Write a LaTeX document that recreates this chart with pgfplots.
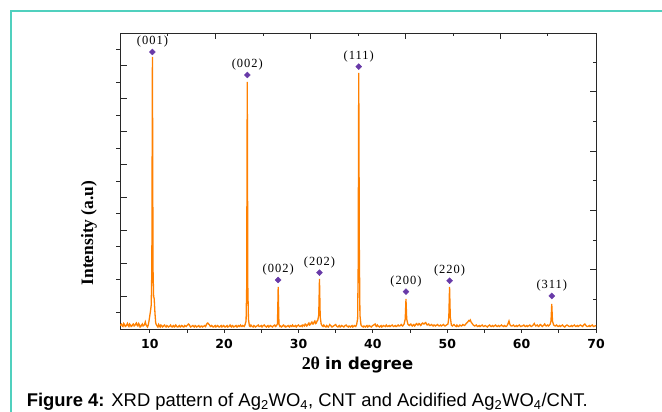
\documentclass[border=0pt]{standalone}
\usepackage{fontspec}
\usepackage{pgfplots}
\pgfplotsset{compat=1.18}
\setmainfont{Liberation Serif}
\newfontfamily\capfont{Liberation Sans}
\newfontfamily\tickfont{DejaVu Sans}
\newfontfamily\lblfont[LetterSpace=8]{Liberation Serif}

\definecolor{xrdorange}{RGB}{255,128,0}
\definecolor{peakviolet}{RGB}{104,58,168}
\definecolor{frameteal}{RGB}{80,208,190}
\definecolor{axisgray}{RGB}{40,40,40}

% heights are in pixels above the baseline of the frame
\pgfplotstableread{
x y
6.0 3
6.1 4.5
6.2 5
6.3 3
6.4 2.5
6.5 5.5
6.6 4.5
6.7 2.5
6.8 3
6.9 4
7.0 5.5
7.1 3.5
7.2 2.5
7.3 5
7.4 4
7.5 2.5
7.6 3
7.7 4.5
7.8 5
7.9 3
8.0 3.5
8.1 5
8.2 6
8.3 3.5
8.4 3
8.5 5.5
8.6 4.5
8.7 2
8.8 2.5
8.9 4
9.0 5
9.1 3
9.2 3.5
9.3 4.5
9.4 7
9.5 4
9.6 3
9.7 2
9.8 4
9.9 8
10.0 13
10.1 18
10.2 24
10.28 60
10.36 272
10.44 60
10.52 33
10.6 30
10.7 16
10.8 6
10.9 4
11.0 3
11.1 2
11.2 4.5
11.3 3
11.4 2
11.5 4
11.6 3.5
11.7 2
11.8 2.5
11.9 3.5
12.0 4
12.1 2.5
12.2 2
12.3 3.5
12.4 3
12.5 2
12.6 2.5
12.7 3
12.8 4
12.9 2.5
13.0 2
13.1 3
13.2 3.5
13.3 2
13.4 2.5
13.5 4
13.6 3
13.7 2
13.8 2
13.9 3
14.0 3.5
14.1 2
14.2 2.5
14.3 3.5
14.4 3
14.5 2
14.6 2
14.7 3.5
14.8 3
14.9 2.5
15.0 3.5
15.1 4
15.2 5
15.3 4.5
15.4 3
15.5 2
15.6 2.5
15.7 3
15.8 3.5
15.9 2.5
16.0 2
16.1 3.5
16.2 3
16.3 2
16.4 2.5
16.5 3
16.6 3.5
16.7 2
16.8 2
16.9 3
17.0 3
17.1 2
17.2 2.5
17.3 3
17.4 3.5
17.5 2.5
17.6 4
17.7 5.5
17.8 6
17.9 5
18.0 4.5
18.1 3
18.2 2.5
18.3 3.5
18.4 3
18.5 2
18.6 2
18.7 3
18.8 3.5
18.9 2
19.0 2.5
19.1 3.5
19.2 3
19.3 2
19.4 2
19.5 3
19.6 3.5
19.7 2
19.8 2.5
19.9 3.5
20.0 3
20.1 2
20.2 2
20.3 3
20.4 3.5
20.5 2
20.6 2.5
20.7 3
20.8 4
20.9 2.5
21.0 2
21.1 3.5
21.2 3
21.3 2
21.4 2.5
21.5 3
21.6 3.5
21.7 2
21.8 2
21.9 3.5
22.0 3
22.1 2.5
22.2 4
22.3 3
22.4 2.5
22.5 3.5
22.6 3
22.7 2.5
22.8 4
22.95 8
23.03 40
23.11 247
23.19 40
23.27 10
23.4 3
23.5 2.5
23.6 4
23.7 3
23.8 2.5
23.9 2
24.0 3.5
24.1 3
24.2 2
24.3 2.5
24.4 3
24.5 3.5
24.6 4
24.7 2.5
24.8 2.5
24.9 3
25.0 3.5
25.1 2
25.2 3
25.3 3.5
25.4 4
25.5 3
25.6 2.5
25.7 2
25.8 3
25.9 3.5
26.0 2
26.1 2.5
26.2 3.5
26.3 3
26.4 2.5
26.5 2
26.6 3
26.7 3.5
26.8 4
26.9 2.5
27.0 3
27.17 5
27.27 42
27.37 5
27.5 2.5
27.6 3
27.7 2
27.8 2.5
27.9 3.5
28.0 4
28.1 2.5
28.2 3
28.3 2
28.4 2.5
28.5 3
28.6 3.5
28.7 2.5
28.8 2
28.9 3.5
29.0 3
29.1 2.5
29.2 4
29.3 3
29.4 2.5
29.5 3
29.6 3.5
29.7 2
29.8 3
29.9 3.5
30.0 4
30.1 3
30.2 2.5
30.3 3
30.4 3.5
30.5 2.5
30.6 4
30.7 3.5
30.8 3
30.9 5
31.0 4.5
31.1 3
31.2 3.5
31.3 5
31.4 6
31.5 4
31.6 4.5
31.7 6
31.8 7
31.9 5
32.0 5
32.1 7
32.2 8
32.3 5.5
32.4 6
32.5 8
32.6 9
32.72 14
32.82 50
32.92 12
33.05 5
33.2 3
33.3 2.5
33.4 4
33.5 3
33.6 2.5
33.7 2
33.8 3.5
33.9 2.5
34.0 2
34.1 3
34.2 4.5
34.3 3.5
34.4 3
34.5 2
34.6 2.5
34.7 3
34.8 3.5
34.9 4
35.0 4.5
35.1 3
35.2 2.5
35.3 2
35.4 3
35.5 3.5
35.6 2
35.7 2.5
35.8 3.5
35.9 3
36.0 2.5
36.1 2
36.2 3
36.3 3.5
36.4 4
36.5 3
36.6 2.5
36.7 2
36.8 3
36.9 2.5
37.0 2
37.1 3
37.2 3.5
37.3 2
37.4 2.5
37.5 3.5
37.6 3
37.7 2.5
37.8 4
37.95 10
38.02 60
38.1 256
38.18 80
38.26 14
38.4 4
38.5 3
38.6 2.5
38.7 2
38.8 3
38.9 2.5
39.0 2
39.1 3
39.2 3.5
39.3 2
39.4 2.5
39.5 3.5
39.6 3
39.7 2.5
39.8 2
39.9 3
40.0 3.5
40.1 4
40.2 4.5
40.3 5
40.4 3
40.5 2.5
40.6 4
40.7 3
40.8 2.5
40.9 2
41.0 3
41.1 3.5
41.2 2
41.3 2.5
41.4 3.5
41.5 3
41.6 3
41.7 2.5
41.8 4
41.9 3
42.0 2.5
42.1 3
42.2 3.5
42.3 2.5
42.4 3
42.5 3.5
42.6 4
42.7 3
42.8 2.5
42.9 3
43.0 3.5
43.1 2.5
43.2 2.5
43.3 3.5
43.4 4
43.5 3
43.6 3
43.7 3.5
43.8 4.5
43.9 3.5
44.0 3
44.1 4
44.2 5
44.35 10
44.45 30
44.55 10
44.7 5
44.8 4
44.9 3.5
45.0 4.5
45.1 5
45.2 3.5
45.3 3
45.4 4
45.5 4.5
45.6 3
45.7 3.5
45.8 5
45.9 5.5
46.0 4
46.1 4
46.2 5.5
46.3 5
46.4 3.5
46.5 4
46.6 5.5
46.7 6
46.8 5
46.9 5
47.0 6
47.1 6.5
47.2 5
47.3 4
47.4 4.5
47.5 5
47.6 3.5
47.7 3.5
47.8 4
47.9 4.5
48.0 3.5
48.1 3
48.2 4
48.3 4
48.4 3
48.5 3.5
48.6 4
48.7 4.5
48.8 3.5
48.9 3
49.0 3.5
49.1 4
49.2 3
49.3 3.5
49.4 4
49.5 4.5
49.6 3.5
49.7 3
49.8 3.5
49.9 4
50.0 4.5
50.1 5
50.21 12
50.31 42
50.41 12
50.55 4
50.6 3.5
50.7 3
50.8 4
50.9 4.5
51.0 3.5
51.1 3
51.2 2.5
51.3 4
51.4 3
51.5 2.5
51.6 3
51.7 4
51.8 3.5
51.9 3
52.0 3.5
52.1 4.5
52.2 4
52.3 3.5
52.4 4
52.5 5
52.6 6
52.7 6.5
52.8 7.5
52.9 8.5
53.0 8
53.1 9
53.2 7
53.3 6
53.4 5
53.5 4
53.6 3.5
53.7 3
53.8 3.5
53.9 4
54.0 3
54.1 2.5
54.2 3
54.3 3.5
54.4 2.5
54.5 3
54.6 3.5
54.7 4
54.8 3
54.9 2.5
55.0 3
55.1 3.5
55.2 3
55.3 2.5
55.4 2
55.5 3
55.6 3.5
55.7 4
55.8 3
55.9 2.5
56.0 3
56.1 3.5
56.2 2.5
56.3 3
56.4 3.5
56.5 4
56.6 3
56.7 2.5
56.8 3
56.9 3.5
57.0 2.5
57.1 3
57.2 3.5
57.3 4
57.4 3
57.5 3
57.6 2.5
57.7 3.5
57.8 3
57.9 2.5
58.0 3
58.1 4
58.2 6
58.3 8
58.4 5
58.5 3.5
58.6 3
58.7 3
58.8 3.5
58.9 4
59.0 3
59.1 2.5
59.2 3
59.3 3.5
59.4 2.5
59.5 3
59.6 3.5
59.7 4
59.8 3
59.9 2.5
60.0 3
60.1 3
60.2 3.5
60.3 4
60.4 3
60.5 2.5
60.6 3
60.7 3.5
60.8 2.5
60.9 3
61.0 3.5
61.1 4
61.2 3
61.3 2.5
61.4 3
61.5 3.5
61.6 4.5
61.7 5.5
61.8 4
61.9 3
62.0 3.5
62.1 4
62.2 3
62.3 2.5
62.4 3.5
62.5 4.5
62.6 4
62.7 3
62.8 2.5
62.9 3.5
63.0 4
63.1 5
63.2 3.5
63.3 3
63.4 3.5
63.5 4
63.6 3
63.7 3.5
63.85 5
63.95 8
64.05 25
64.15 8
64.3 4
64.4 3.5
64.5 3
64.6 3.5
64.7 4
64.8 3
64.9 2.5
65.0 3
65.1 3.5
65.2 2.5
65.3 3
65.4 3.5
65.5 4
65.6 3
65.7 2.5
65.8 2
65.9 3
66.0 3.5
66.1 4
66.2 3.5
66.3 3
66.4 2.5
66.5 2.5
66.6 3
66.7 3.5
66.8 2.5
66.9 3
67.0 3.5
67.1 4
67.2 3
67.3 2.5
67.4 3
67.5 3.5
67.6 2.5
67.7 3
67.8 3.5
67.9 4
68.0 3.5
68.1 3
68.2 2.5
68.3 3.5
68.4 4.5
68.5 5
68.6 4
68.7 3
68.8 2.5
68.9 2.5
69.0 3
69.1 3.5
69.2 2.5
69.3 3
69.4 3.5
69.5 4
69.6 3
69.7 2.5
69.8 3
69.9 3
70.0 3.5
}\xrddata

\pgfplotstableread{
x y lbl
10.36 277 (001)
23.11 254 (002)
27.27 49 (002)
32.82 56.3 (202)
38.1 262.3 (111)
44.45 37.3 (200)
50.31 48.3 (220)
64.05 33 (311)
}\peaks

\pgfplotsset{
  frame/.style={
    at={(120bp,83bp)}, anchor=south west,
    width=476bp, height=296bp, scale only axis,
    xmin=6, xmax=70, ymin=0, ymax=296,
  },
}

\begin{document}
\begin{tikzpicture}
\path[use as bounding box] (0,0) rectangle (662bp,412bp);
\draw[frameteal, line width=1.2bp] (11bp,0) -- (11bp,401bp) -- (662bp,401bp);

% left inward ticks
\begin{axis}[frame, axis line style={draw=none},
  xmajorticks=false, ytick pos=left, tick align=inside,
  ytick={32.9,65.8,98.7,131.6,164.5,197.4,230.3,263.2},
  yticklabels={}, major tick length=7bp,
  tick style={axisgray, line width=0.8bp}]
\end{axis}

% top and right inward ticks
\begin{axis}[frame, axis line style={draw=none},
  xtick pos=top, ytick pos=right, tick align=inside,
  xtick={18.86,31.61,44.36,57.11},
  minor xtick={12.42,25.26,38.0,50.77,63.46},
  ytick={59.3,118.6,177.9,237.2},
  minor ytick={29.65,88.95,148.25,207.55,266.85},
  xticklabels={}, yticklabels={},
  major tick length=6bp, minor tick length=3bp,
  tick style={axisgray, line width=0.8bp}]
\end{axis}

\begin{axis}[frame,
  axis line style={axisgray, line width=0.9bp},
  xtick pos=bottom, ytick pos=left, tick align=outside,
  xtick={10,20,...,70}, minor xtick={15,25,...,65},
  ytick={16.45,49.35,82.25,115.15,148.05,180.95,213.85,246.75,279.65},
  yticklabels={},
  major tick length=4bp, minor tick length=4bp,
  tick style={axisgray, line width=0.8bp},
  /pgf/number format/assume math mode=true,
  xticklabel style={font=\tickfont\bfseries\fontsize{12.5}{12.5}\selectfont, yshift=-3bp},
]
\addplot[xrdorange, line width=1.3bp, mark=none] table[x=x, y=y] {\xrddata};
\addplot[only marks, mark=square*, mark size=2.1bp,
  mark options={rotate=45, fill=peakviolet, draw=peakviolet},
  nodes near coords, point meta=explicit symbolic,
  nodes near coords style={font=\lblfont\fontsize{12.5}{12.5}\selectfont,
    anchor=south, inner sep=0pt, yshift=4.5bp, text=black}]
  table[x=x, y=y, meta=lbl] {\peaks};
\end{axis}

\node[anchor=base, inner sep=0pt] at (357.5bp,42bp)
  {{\bfseries\fontsize{18}{18}\selectfont 2θ}\hspace{5bp}{\tickfont\bfseries\fontsize{16.5}{16.5}\selectfont in degree}};
\node[rotate=90, inner sep=0pt, font=\bfseries\fontsize{17.5}{17.5}\selectfont] at (89bp,179bp) {Intensity (a.u)};
\node[anchor=base west, inner sep=0pt, font=\capfont\fontsize{18.5}{18.5}\selectfont] at (26.6bp,5.7bp)
  {\textbf{Figure 4:} XRD pattern of Ag\textsubscript{2}WO\textsubscript{4}, CNT and Acidified Ag\textsubscript{2}WO\textsubscript{4}/CNT.};
\end{tikzpicture}
\end{document}
